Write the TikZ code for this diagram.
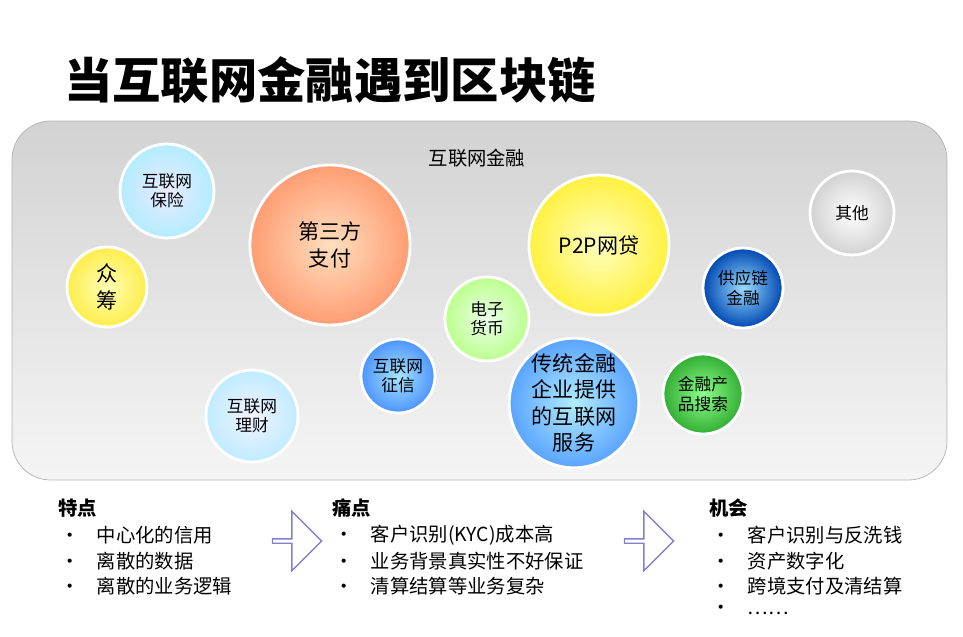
\documentclass[tikz,border=0pt]{standalone}
\usepackage{fontspec}
\setmainfont{Noto Sans CJK SC}
\usetikzlibrary{shapes.arrows}
\tikzset{
  bubble/.style={circle, draw=white, line width=1.6pt, align=center, inner sep=0pt,
    font=\fontsize{9.5}{11}\selectfont, shading=radial},
  head/.style={anchor=west, font=\fontsize{11}{13}\selectfont\bfseries},
  item/.style={anchor=west, font=\fontsize{11}{13}\selectfont},
  hollow/.style={single arrow, draw=gray!60!blue!70, fill=white, line width=0.8pt,
    minimum width=34pt, single arrow head extend=5pt, minimum height=28pt, inner sep=0pt}
}
\begin{document}
\begin{tikzpicture}[x=0.02cm, y=-0.02cm]
\useasboundingbox (0,0) rectangle (963,636);
\node[anchor=west, font=\fontsize{27.5}{32}\selectfont\bfseries, inner sep=0pt] (title) at (64,80) {当互联网金融遇到区块链};
% panel
\shade[top color=gray!35, bottom color=gray!8, draw=gray!60, rounded corners=22pt]
  (12,121) rectangle (947,480);
\node[font=\fontsize{11}{13}\selectfont] (panel) at (477,158) {互联网金融};
% bubbles
\node[bubble, minimum size=94*0.02cm, inner color=blue!8, outer color=blue!25!cyan!30] (insure) at (167,191) {互联网\\保险};
\node[bubble, minimum size=160*0.02cm, inner color=orange!25, outer color=orange!60!red!55, font=\fontsize{12}{15}\selectfont] (pay) at (330,245) {第三方\\支付};
\node[bubble, minimum size=80*0.02cm, inner color=yellow!30, outer color=yellow!80!orange!70, font=\fontsize{12}{15}\selectfont] (crowd) at (107,287) {众\\筹};
\node[bubble, minimum size=140*0.02cm, inner color=yellow!25, outer color=yellow!85!orange!75, font=\fontsize{12}{15}\selectfont] (p2p) at (599,245) {P2P网贷};
\node[bubble, minimum size=84*0.02cm, inner color=white, outer color=gray!35] (other) at (852,213) {其他};
\node[bubble, minimum size=80*0.02cm, inner color=blue!35!cyan!40, outer color=blue!60!cyan!70!black] (chain) at (743,288) {供应链\\金融};
\node[bubble, minimum size=84*0.02cm, inner color=green!8, outer color=green!45!lime!45] (emoney) at (487,319) {电子\\货币};
\node[bubble, minimum size=74*0.02cm, inner color=blue!30!cyan!35, outer color=blue!60!cyan!70] (credit) at (398,376) {互联网\\征信};
\node[bubble, minimum size=126*0.02cm, inner color=blue!25!cyan!30, outer color=blue!55!cyan!65, font=\fontsize{12}{15}\selectfont] (trad) at (574,403) {传统金融\\企业提供\\的互联网\\服务};
\node[bubble, minimum size=80*0.02cm, inner color=green!45, outer color=green!60!black!80] (search) at (703,394) {金融产\\品搜索};
\node[bubble, minimum size=92*0.02cm, inner color=blue!5, outer color=blue!30!cyan!25] (wealth) at (252,416) {互联网\\理财};
% bottom lists
\node[head] (feat) at (52,508) {特点};
\node[item] (f1) at (54,535) {•\hspace{0.9em}中心化的信用};
\node[item] (f2) at (54,561) {•\hspace{0.9em}离散的数据};
\node[item] (f3) at (54,586) {•\hspace{0.9em}离散的业务逻辑};
\node[hollow] (arr1) at (296,541) {};
\node[head] (pain) at (326,508) {痛点};
\node[item] (p1) at (328,535) {•\hspace{0.9em}客户识别(KYC)成本高};
\node[item] (p2) at (328,561) {•\hspace{0.9em}业务背景真实性不好保证};
\node[item] (p3) at (328,586) {•\hspace{0.9em}清算结算等业务复杂};
\node[hollow] (arr2) at (648,541) {};
\node[head] (chance) at (703,508) {机会};
\node[item] (c1) at (705,535) {•\hspace{0.9em}客户识别与反洗钱};
\node[item] (c2) at (705,561) {•\hspace{0.9em}资产数字化};
\node[item] (c3) at (705,586) {•\hspace{0.9em}跨境支付及清结算};
\node[item] (c4) at (705,610) {•\hspace{0.9em}……};
\end{tikzpicture}
\end{document}
